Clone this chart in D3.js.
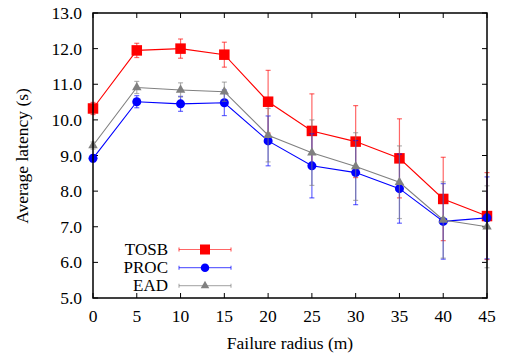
<!DOCTYPE html>
<html><head><meta charset="utf-8">
<script src="https://cdn.jsdelivr.net/npm/d3@7"></script>
</head><body style="margin:0"><svg id="c" width="505" height="358"></svg>
<script>
const radii = [0,5,10,15,20,25,30,35,40,45];
const yTicks = [5,6,7,8,9,10,11,12,13];
const seriesNames = ["TOSB","PROC","EAD"];
const tosbMean = [10.32,11.95,12.0,11.83,10.51,9.69,9.39,8.92,7.78,7.30];
const tosbErr  = [0.17,0.2,0.27,0.35,0.88,1.04,1.01,1.11,1.17,1.22];
const procMean = [8.92,10.51,10.45,10.48,9.41,8.71,8.52,8.07,7.15,7.25];
const procErr  = [0.1,0.17,0.21,0.36,0.7,0.9,0.9,0.97,1.06,1.15];
const eadMean  = [9.28,10.91,10.84,10.79,9.57,9.08,8.69,8.25,7.19,7.0];
const eadErr   = [0.1,0.17,0.2,0.27,0.75,0.92,0.95,1.02,1.07,1.15];
const colors = ["#ff0000","#0000ff","#808080"];
const shapes = ["square","circle","triangle"];

const svg = d3.select("#c");
const L=93,R=487,T=13,B=298;
const FS=17.5;
const x = d3.scaleLinear().domain([0,45]).range([L,R]);
const y = d3.scaleLinear().domain([5,13]).range([B,T]);
function txt(sel, fs){
  return sel.append("text").attr("font-family","Liberation Serif").style("font-family","Liberation Serif").attr("font-size",fs||FS).attr("fill","#000");
}

const g = svg.append("g");
const tk=5;
radii.forEach(v=>{
  g.append("line").attr("x1",x(v)).attr("x2",x(v)).attr("y1",B).attr("y2",B-tk).attr("stroke","#000");
  g.append("line").attr("x1",x(v)).attr("x2",x(v)).attr("y1",T).attr("y2",T+tk).attr("stroke","#000");
  txt(g).attr("x",x(v)).attr("y",322).attr("text-anchor","middle").text(v);
});
yTicks.forEach(v=>{
  g.append("line").attr("x1",L).attr("x2",L+tk).attr("y1",y(v)).attr("y2",y(v)).attr("stroke","#000");
  g.append("line").attr("x1",R).attr("x2",R-tk).attr("y1",y(v)).attr("y2",y(v)).attr("stroke","#000");
  txt(g).attr("x",82).attr("y",y(v)+6).attr("text-anchor","end").text(v.toFixed(1));
});

txt(svg).attr("x",(L+R)/2).attr("y",349).attr("text-anchor","middle").text("Failure radius (m)");
txt(svg).attr("transform","translate(28,156) rotate(-90)").attr("text-anchor","middle").text("Average latency (s)");

function marker(sel, shape, cx, cy, col, s){
  if(shape==="square") sel.append("rect").attr("x",cx-s/2).attr("y",cy-s/2).attr("width",s).attr("height",s).attr("fill",col);
  else if(shape==="circle") sel.append("circle").attr("cx",cx).attr("cy",cy).attr("r",s/2).attr("fill",col);
  else {
    const h=s*0.87;
    sel.append("path").attr("d",`M${cx-s/2},${cy+h/3}L${cx+s/2},${cy+h/3}L${cx},${cy-2*h/3}Z`).attr("fill",col);
  }
}

const data = [[tosbMean,tosbErr],[procMean,procErr],[eadMean,eadErr]];
const sizes=[10.5,9,9.5];
const line = d3.line().x(d=>x(d[0])).y(d=>y(d[1]));
data.forEach(([m,e],i)=>{
  const sg = svg.append("g");
  const col=colors[i];
  sg.append("path").datum(radii.map((r,k)=>[r,m[k]])).attr("d",line).attr("fill","none").attr("stroke",col).attr("stroke-width",1.1);
  radii.forEach((r,k)=>{
    const cx=x(r), y1=y(m[k]+e[k]), y2=y(m[k]-e[k]);
    sg.append("line").attr("x1",cx).attr("x2",cx).attr("y1",y1).attr("y2",y2).attr("stroke",col).attr("stroke-opacity",0.6).attr("stroke-width",1.2);
    [y1,y2].forEach(yy=>sg.append("line").attr("x1",cx-2.5).attr("x2",cx+2.5).attr("y1",yy).attr("y2",yy).attr("stroke",col).attr("stroke-opacity",0.6).attr("stroke-width",1.2));
  });
  radii.forEach((r,k)=>marker(sg,shapes[i],x(r),y(m[k]),col,sizes[i]));
  const ly=[249.5,267.7,285.7][i];
  txt(svg,17).attr("x",168).attr("y",ly+5.5).attr("text-anchor","end").text(seriesNames[i]);
  svg.append("line").attr("x1",179).attr("x2",231).attr("y1",ly).attr("y2",ly).attr("stroke",col).attr("stroke-opacity",0.6).attr("stroke-width",1.2);
  [179,231].forEach(xx=>svg.append("line").attr("x1",xx).attr("x2",xx).attr("y1",ly-2).attr("y2",ly+2).attr("stroke",col).attr("stroke-opacity",0.6).attr("stroke-width",1.2));
  marker(svg,shapes[i],205,ly,col,[10,8.5,8.5][i]);
});

svg.append("rect").attr("x",L).attr("y",T).attr("width",R-L).attr("height",B-T).attr("fill","none").attr("stroke","#000").attr("stroke-width",1.5);
</script></body></html>
